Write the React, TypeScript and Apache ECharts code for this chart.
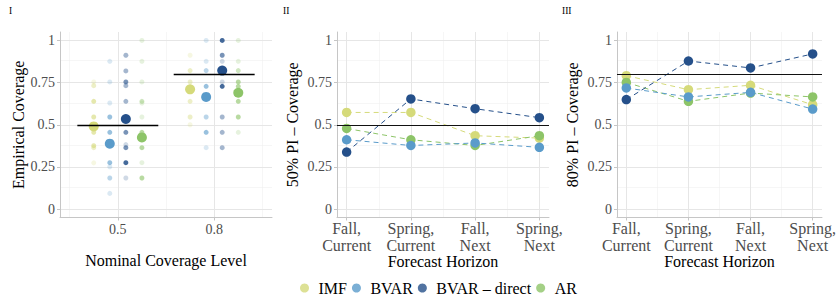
import React, { useEffect, useRef } from 'react';
import * as echarts from 'echarts';

// ---------- data ----------
const models = ['IMF', 'BVAR', 'BVAR – direct', 'AR'];
const modelColors = ['#d5da7a', '#5a9bca', '#25508a', '#8dc468'];
const drawOrder = [0, 3, 1, 2]; // IMF, AR, BVAR, BVAR – direct
const nominalLevels = [0.5, 0.8];
const horizons = ['Fall,\nCurrent', 'Spring,\nCurrent', 'Fall,\nNext', 'Spring,\nNext'];
const yTicks = [0, 0.25, 0.5, 0.75, 1];
const yMinorGrid = [0.125, 0.375, 0.625, 0.875];

// Panel II: 50% PI coverage by horizon
const cov50IMF = [0.573, 0.573, 0.435, 0.421];
const cov50BVAR = [0.411, 0.377, 0.392, 0.366];
const cov50Direct = [0.338, 0.653, 0.595, 0.542];
const cov50AR = [0.478, 0.411, 0.377, 0.435];

// Panel III: 80% PI coverage by horizon
const cov80IMF = [0.791, 0.708, 0.734, 0.619];
const cov80BVAR = [0.718, 0.665, 0.692, 0.593];
const cov80Direct = [0.649, 0.878, 0.837, 0.92];
const cov80AR = [0.751, 0.639, 0.688, 0.665];

// Panel I: average empirical coverage (large dots), per nominal level
const meanIMF = [0.49, 0.71];
const meanBVAR = [0.388, 0.665];
const meanDirect = [0.534, 0.821];
const meanAR = [0.425, 0.69];

// Panel I: individual empirical coverages (small dots) and their shade level (1 light .. 4 dark)
const dotsIMF50 = [0.754, 0.732, 0.639, 0.546, 0.455, 0.376, 0.364, 0.274];
const shadeIMF50 = [1, 2, 3, 3, 3, 3, 2, 1];
const dotsIMF80 = [0.912, 0.821, 0.754, 0.639, 0.546, 0.5];
const shadeIMF80 = [1, 2, 2, 2, 2, 1];
const dotsBVAR50 = [0.876, 0.754, 0.629, 0.546, 0.455, 0.275, 0.251, 0.184, 0.093];
const shadeBVAR50 = [1, 1, 1, 3, 3, 3, 1, 2, 1];
const dotsBVAR80 = [1.0, 0.876, 0.821, 0.728, 0.546, 0.455, 0.364];
const shadeBVAR80 = [1, 1, 2, 3, 2, 3, 1];
const dotsDirect50 = [0.912, 0.819, 0.754, 0.732, 0.639, 0.455, 0.382, 0.364, 0.275, 0.184];
const shadeDirect50 = [2, 2, 3, 2, 2, 3, 1, 3, 4, 1];
const dotsDirect80 = [1.0, 0.912, 0.876, 0.754, 0.728, 0.546, 0.455, 0.364];
const shadeDirect80 = [4, 3, 1, 1, 4, 2, 2, 2];
const dotsAR50 = [1.0, 0.876, 0.754, 0.639, 0.629, 0.546, 0.455, 0.364, 0.275, 0.184];
const shadeAR50 = [1, 1, 1, 2, 1, 1, 3, 3, 1, 3];
const dotsAR80 = [1.0, 0.876, 0.821, 0.754, 0.728, 0.639, 0.546, 0.455];
const shadeAR80 = [1, 1, 2, 3, 3, 3, 3, 1];

// ---------- assembly ----------
const cov50 = [cov50IMF, cov50BVAR, cov50Direct, cov50AR];
const cov80 = [cov80IMF, cov80BVAR, cov80Direct, cov80AR];
const means = [meanIMF, meanBVAR, meanDirect, meanAR];
const dots = [
  [dotsIMF50, dotsIMF80],
  [dotsBVAR50, dotsBVAR80],
  [dotsDirect50, dotsDirect80],
  [dotsAR50, dotsAR80],
];
const shades = [
  [shadeIMF50, shadeIMF80],
  [shadeBVAR50, shadeBVAR80],
  [shadeDirect50, shadeDirect80],
  [shadeAR50, shadeAR80],
];

const FONT = 'Liberation Serif';
const AXIS_GRAY = '#c6c6c6';
const GRID_MAJOR = '#e6e6e6';
const GRID_MINOR = '#f0f0f0';
const shadeOpacity = [0.22, 0.42, 0.62, 0.85];
const dodge = (m: number) => (m - 1.5) / 6;

function yAxisFor(g: number, name: string, nameGap: number) {
  return {
    type: 'value',
    gridIndex: g,
    min: -0.05,
    max: 1.05,
    name,
    nameLocation: 'middle',
    nameGap,
    nameMoveOverlap: false,
    nameTextStyle: { fontFamily: FONT, fontSize: 16, color: '#000' },
    axisLine: { show: true, lineStyle: { color: AXIS_GRAY, width: 1 } },
    axisTick: { show: true, length: 3, customValues: yTicks, lineStyle: { color: AXIS_GRAY } },
    axisLabel: {
      customValues: yTicks,
      fontFamily: FONT,
      fontSize: 14,
      color: '#4d4d4d',
      margin: 5,
      formatter: (v: number) => String(v),
    },
    splitLine: { show: false },
  };
}

function gridSeries(g: number, xMajor: number[], xMinor: number[]) {
  const lines: any[] = [];
  yMinorGrid.forEach((v) => lines.push({ yAxis: v, lineStyle: { color: GRID_MINOR, width: 0.6, type: 'solid' } }));
  xMinor.forEach((v) => lines.push({ xAxis: v, lineStyle: { color: GRID_MINOR, width: 0.6, type: 'solid' } }));
  yTicks.forEach((v) => lines.push({ yAxis: v, lineStyle: { color: GRID_MAJOR, width: 1, type: 'solid' } }));
  xMajor.forEach((v) => lines.push({ xAxis: v, lineStyle: { color: GRID_MAJOR, width: 1, type: 'solid' } }));
  return {
    type: 'line',
    name: 'grid' + g,
    xAxisIndex: g,
    yAxisIndex: g,
    data: [],
    silent: true,
    z: 0,
    markLine: {
      silent: true,
      z: 0,
      symbol: 'none',
      label: { show: false },
      emphasis: { disabled: true },
      animation: false,
      data: lines,
    },
  };
}

export default function App() {
  const ref = useRef<HTMLDivElement>(null);

  useEffect(() => {
    document.body.style.margin = '0';
    if (!ref.current) return;
    const chart = echarts.init(ref.current, null, { renderer: 'svg' });

    const series: any[] = [];
    series.push(gridSeries(0, [1, 2], [0.5, 1.5, 2.5]));
    series.push(gridSeries(1, [1, 2, 3, 4], [1.5, 2.5, 3.5]));
    series.push(gridSeries(2, [1, 2, 3, 4], [1.5, 2.5, 3.5]));

    // Panel I small dots
    drawOrder.forEach((m) => {
      const data: any[] = [];
      nominalLevels.forEach((_, li) => {
        dots[m][li].forEach((v, k) => {
          data.push({
            value: [li + 1 + dodge(m), v],
            itemStyle: { opacity: shadeOpacity[shades[m][li][k] - 1] },
          });
        });
      });
      series.push({
        type: 'scatter',
        name: models[m],
        xAxisIndex: 0,
        yAxisIndex: 0,
        symbol: 'circle',
        symbolSize: 5,
        itemStyle: { color: modelColors[m] },
        data,
        z: 2,
      });
    });
    // Panel I mean dots
    drawOrder.forEach((m) => {
      series.push({
        type: 'scatter',
        name: models[m],
        xAxisIndex: 0,
        yAxisIndex: 0,
        symbol: 'circle',
        symbolSize: 10,
        itemStyle: { color: modelColors[m], opacity: 1 },
        data: nominalLevels.map((_, li) => [li + 1 + dodge(m), means[m][li]]),
        z: 3,
      });
    });
    // nominal level reference segments in panel I
    series.push({
      type: 'line',
      name: 'ref0',
      xAxisIndex: 0,
      yAxisIndex: 0,
      data: [],
      markLine: {
        silent: true,
        symbol: 'none',
        label: { show: false },
        lineStyle: { color: '#000', width: 1.3, type: 'solid' },
        data: nominalLevels.map((lvl, li) => [
          { coord: [li + 1 - 0.42, lvl] },
          { coord: [li + 1 + 0.42, lvl] },
        ]),
      },
    });

    // Panels II and III
    [cov50, cov80].forEach((cov, p) => {
      const g = p + 1;
      drawOrder.forEach((m) => {
        series.push({
          type: 'line',
          name: models[m],
          xAxisIndex: g,
          yAxisIndex: g,
          symbol: 'circle',
          symbolSize: 9.5,
          showSymbol: true,
          itemStyle: { color: modelColors[m], opacity: 1 },
          lineStyle: { color: modelColors[m], width: 1, type: [5, 4] },
          data: cov[m].map((v, i) => [i + 1, v]),
          z: 3,
        });
      });
      series.push({
        type: 'line',
        name: 'ref' + g,
        xAxisIndex: g,
        yAxisIndex: g,
        data: [],
        markLine: {
          silent: true,
          symbol: 'none',
          label: { show: false },
          lineStyle: { color: '#111', width: 1.2, type: 'solid' },
          data: [{ yAxis: nominalLevels[p] }],
        },
      });
    });

    const catAxis = (g: number) => ({
      type: 'value',
      gridIndex: g,
      min: 0.85,
      max: 4.15,
      name: 'Forecast Horizon',
      nameLocation: 'middle',
      nameGap: 36,
      nameMoveOverlap: false,
      nameTextStyle: { fontFamily: FONT, fontSize: 16, color: '#000', lineHeight: 16 },
      axisLine: { show: true, onZero: false, lineStyle: { color: AXIS_GRAY, width: 1 } },
      axisTick: { show: true, length: 3, customValues: [1, 2, 3, 4], lineStyle: { color: AXIS_GRAY } },
      axisLabel: {
        customValues: [1, 2, 3, 4],
        fontFamily: FONT,
        fontSize: 16,
        lineHeight: 17,
        color: '#4d4d4d',
        margin: 2,
        formatter: (v: number) => horizons[Math.round(v) - 1],
      },
      splitLine: { show: false },
    });

    const option: any = {
      animation: false,
      backgroundColor: '#fff',
      textStyle: { fontFamily: FONT },
      grid: [
        { left: 60, top: 32, width: 212, height: 185.5 },
        { left: 337, top: 32, width: 212, height: 185.5 },
        { left: 617, top: 32, width: 212, height: 185.5 },
      ],
      xAxis: [
        {
          type: 'value',
          gridIndex: 0,
          min: 0.4,
          max: 2.6,
          name: 'Nominal Coverage Level',
          nameLocation: 'middle',
          nameGap: 35,
          nameMoveOverlap: false,
          nameTextStyle: { fontFamily: FONT, fontSize: 16, color: '#000' },
          axisLine: { show: true, onZero: false, lineStyle: { color: AXIS_GRAY, width: 1 } },
          axisTick: { show: true, length: 3, customValues: [1, 2], lineStyle: { color: AXIS_GRAY } },
          axisLabel: {
            customValues: [1, 2],
            fontFamily: FONT,
            fontSize: 14,
            color: '#4d4d4d',
            margin: 5,
            formatter: (v: number) => String(nominalLevels[Math.round(v) - 1]),
          },
          splitLine: { show: false },
        },
        catAxis(1),
        catAxis(2),
      ],
      yAxis: [
        yAxisFor(0, 'Empirical Coverage', 34),
        yAxisFor(1, '50% PI – Coverage', 37),
        yAxisFor(2, '80% PI – Coverage', 37),
      ],
      legend: {
        data: models.map((n) => ({ name: n, icon: 'circle' })),
        left: 295,
        top: 275,
        itemWidth: 18,
        itemHeight: 9,
        itemGap: 5,
        selectedMode: false,
        textStyle: { fontFamily: FONT, fontSize: 16, color: '#000' },
      },
      graphic: [
        { type: 'text', left: 9, top: 6, style: { text: 'I', font: '9.5px Liberation Serif', fill: '#000' } },
        { type: 'text', left: 283, top: 6, style: { text: 'II', font: '9.5px Liberation Serif', fill: '#000' } },
        { type: 'text', left: 562, top: 6, style: { text: 'III', font: '9.5px Liberation Serif', fill: '#000' } },
      ],
      series,
    };

    chart.setOption(option);
    return () => chart.dispose();
  }, []);

  return <div ref={ref} style={{ width: 839, height: 300 }} />;
}
